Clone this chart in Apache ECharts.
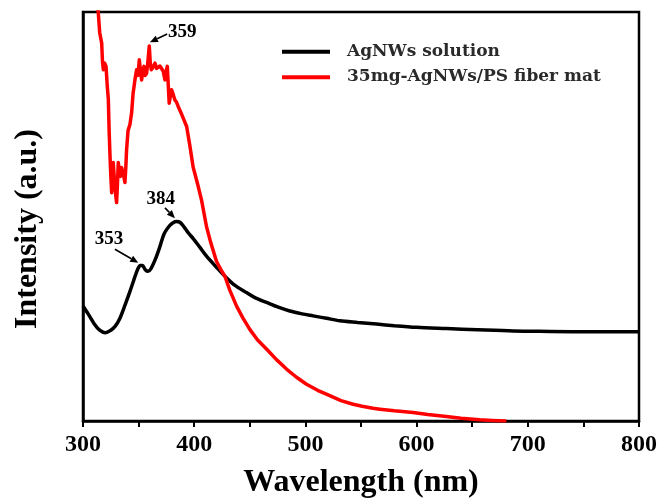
<!DOCTYPE html>
<html><head><meta charset="utf-8">
<script src="https://cdn.jsdelivr.net/npm/echarts@6/dist/echarts.min.js"></script>
<style>html,body{margin:0;padding:0;background:#fff}#c{width:662px;height:504px}</style>
</head><body><div id="c"></div>
<script>
// AgNWs solution (wavelength nm, intensity a.u.)
const blackX = [300,305,310,315,319.8,325,329,333,338,342,345.5,349,351.5,353.5,356,358.5,361,365,369,373,378,381,384,387.2,391,395,399.1,405,411.1,420,427.6,436,447,455,465,475,486,497,507,519,531,547,564,580,600,627,655,687,720,760,800];
const blackY = [28.1,26.0,23.8,22.2,21.6,22.2,23.2,25.0,28.5,31.5,34.3,37.0,38.0,38.0,37.0,36.6,37.2,39.5,42.5,45.8,47.8,48.5,48.8,48.6,47.4,45.9,44.6,42.5,40.3,37.6,35.4,33.3,31.4,30.1,29.0,27.9,26.9,26.2,25.7,25.1,24.5,24.1,23.7,23.3,22.9,22.6,22.3,22.0,21.9,21.8,21.8];
// 35mg-AgNWs/PS fiber mat
const redX = [312,313.7,315,316.8,317.5,318.3,319.5,320.7,321.8,322.8,323.5,324.3,325,325.8,326.5,327.2,328,328.7,329.5,330.2,331,331.7,332.8,333.8,334.7,335.6,336.6,337.7,338.5,339.2,340.5,342.2,343.7,345,346.7,348.2,349.5,350.6,351.6,352.7,353.8,354.8,356,357.2,358.4,359.6,360.5,361.4,363,364.7,366.2,367.7,369.2,370.7,372.2,373.7,374.8,375.8,376.7,377.5,378.6,379.7,381.2,382.6,384,385.6,389,393.2,396,399.1,403,406.6,411.1,415,420.1,424,427.6,432,438.1,444,450,457,465,474,483,492,501,511,521.9,532,542.9,551,560.8,567,580,596.8,610,626.8,640,656.7,668,680.7];
const redY = [104,100,95,92.4,88,85.9,87.5,86.7,82,78.5,71,64.7,60,55.8,60,63.2,60,57.4,55,53.4,58,63.2,61,59.8,62,61.9,60,58.3,62,66.3,71,72.5,75.3,80,83.4,85.9,84.5,88.3,86,83.4,85.5,86.7,84.5,85.0,88,91.7,87.5,85.9,86.5,87.5,86.2,85.9,86.8,87,85.5,83.4,85.5,86.7,82,77.7,79.5,81,79.8,78.5,78,76.9,74.8,72,67.5,62,58,54,47.5,43.5,39,37,35.4,32,28.1,25.1,22.4,19.8,17.6,15.0,12.7,10.7,9.0,7.5,6.2,5.0,4.1,3.6,3.1,2.9,2.5,2.1,1.6,1.1,0.7,0.3,0.15,0];
const xTicks = [300,400,500,600,700,800];
const seriesNames = ['AgNWs solution','35mg-AgNWs/PS fiber mat'];
const peakLabels = [
  {text:'359', tx:376.5, ty:95.1, from:[375.7,94.6], to:[360.2,92.6], align:'left'},
  {text:'384', tx:370, ty:54.3, from:[373.7,52.1], to:[382.7,49.6], align:'center'},
  {text:'353', tx:323.4, ty:44.4, from:[328.7,42.0], to:[349.7,38.7], align:'center'}
];

const chart = echarts.init(document.getElementById('c'));
const F = '"Liberation Serif", "Times New Roman", serif';
const zip = (xs, ys) => xs.map((x,i)=>[x, ys[i]]);
chart.setOption({
  animation:false,
  grid:{left:83,right:23,top:12,bottom:82,show:true,borderColor:'#000',borderWidth:2.5},
  xAxis:{type:'value',min:300,max:800,interval:100,
    axisLine:{lineStyle:{color:'#000',width:2.5}},
    axisTick:{inside:false,length:6,lineStyle:{color:'#000',width:2}},
    minorTick:{show:true,splitNumber:2,length:6,lineStyle:{color:'#000',width:2}},
    splitLine:{show:false},
    axisLabel:{color:'#000',fontFamily:F,fontWeight:'bold',fontSize:24,margin:12,
      formatter:v=>xTicks.includes(v)?String(v):''},
    name:'Wavelength (nm)',nameLocation:'middle',nameGap:46,
    nameTextStyle:{color:'#000',fontFamily:F,fontWeight:'bold',fontSize:32}},
  yAxis:{type:'value',min:0,max:100,
    axisLine:{show:true,lineStyle:{color:'#000',width:2.5}},
    axisTick:{show:false},axisLabel:{show:false},splitLine:{show:false}},
  series:[
    {name:seriesNames[0],type:'line',data:zip(blackX,blackY),showSymbol:false,smooth:0.3,
     lineStyle:{color:'#000',width:3.5},itemStyle:{color:'#000'}},
    {name:seriesNames[1],type:'line',data:zip(redX,redY),showSymbol:false,
     lineStyle:{color:'#f00',width:3.5,join:'round'},itemStyle:{color:'#f00'}}
  ]
});

const g = [];
g.push({type:'text',x:28,y:229,rotation:Math.PI/2,
  style:{text:'Intensity (a.u.)',font:'bold 32px '+F,fill:'#000',textAlign:'center',textVerticalAlign:'middle'}});
[['#000',51.7],['#f00',77.3]].forEach((c,i)=>{
  g.push({type:'line',shape:{x1:282,y1:c[1],x2:330,y2:c[1]},style:{stroke:c[0],lineWidth:4}});
  g.push({type:'text',x:347,y:c[1]-0.5,style:{text:seriesNames[i],font:'bold 17px "DejaVu Serif", serif',fill:'#2a2a2a',textVerticalAlign:'middle'}});
});
peakLabels.forEach(p=>{
  const t = chart.convertToPixel({gridIndex:0},[p.tx,p.ty]);
  const a = chart.convertToPixel({gridIndex:0},p.from);
  const b = chart.convertToPixel({gridIndex:0},p.to);
  g.push({type:'text',x:t[0],y:t[1],style:{text:p.text,font:'bold 19px '+F,fill:'#000',textAlign:p.align,textVerticalAlign:'middle'}});
  const ang = Math.atan2(b[1]-a[1], b[0]-a[0]);
  const L = 8, W = 3.5;
  const bx = b[0]-L*Math.cos(ang), by = b[1]-L*Math.sin(ang);
  g.push({type:'line',shape:{x1:a[0],y1:a[1],x2:bx,y2:by},style:{stroke:'#000',lineWidth:1.6}});
  g.push({type:'polygon',shape:{points:[[b[0],b[1]],[bx-W*Math.sin(ang),by+W*Math.cos(ang)],[bx+W*Math.sin(ang),by-W*Math.cos(ang)]]},style:{fill:'#000'}});
});
chart.setOption({graphic:g});
</script></body></html>
